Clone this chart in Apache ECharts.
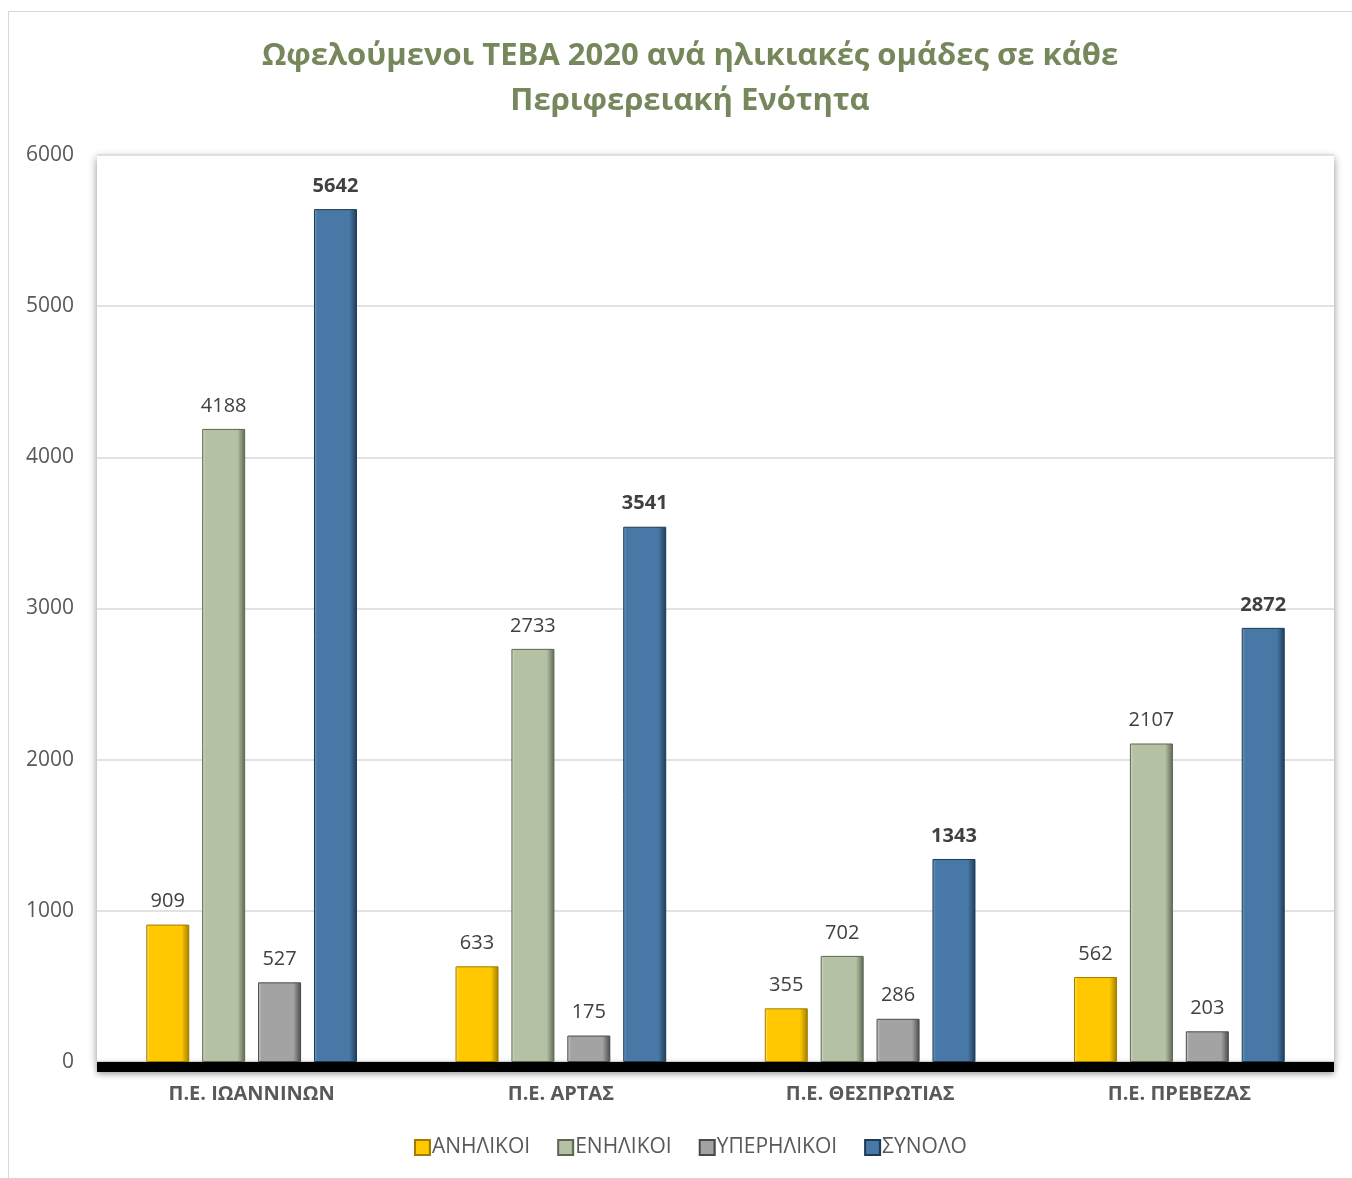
<!DOCTYPE html>
<html>
<head>
<meta charset="utf-8">
<script src="https://cdn.jsdelivr.net/npm/echarts@6/dist/echarts.min.js"></script>
<style>
html,body{margin:0;padding:0;background:#fff;}
#frame{position:absolute;left:8px;top:11px;width:1400px;height:1200px;border:1px solid #d9d9d9;box-sizing:border-box;}
#chart{position:absolute;left:0;top:0;width:1352px;height:1178px;}
</style>
</head>
<body>
<div id="frame"></div>
<div id="chart"></div>
<script>
var categories = ['Π.Ε. ΙΩΑΝΝΙΝΩΝ', 'Π.Ε. ΑΡΤΑΣ', 'Π.Ε. ΘΕΣΠΡΩΤΙΑΣ', 'Π.Ε. ΠΡΕΒΕΖΑΣ'];
var seriesNames = ['ΑΝΗΛΙΚΟΙ', 'ΕΝΗΛΙΚΟΙ', 'ΥΠΕΡΗΛΙΚΟΙ', 'ΣΥΝΟΛΟ'];
var anhlikoi = [909, 633, 355, 562];
var enhlikoi = [4188, 2733, 702, 2107];
var yperhlikoi = [527, 175, 286, 203];
var synolo = [5642, 3541, 1343, 2872];
var yTicks = [0, 1000, 2000, 3000, 4000, 5000, 6000];

var fontName = "'Open Sans', 'Noto Sans', sans-serif";
// base, light edge, dark edge
var barColors = [
    ['#ffc800', '#ffe070', '#a07c00'],
    ['#b4c1a2', '#d2dcc4', '#5e6652'],
    ['#a3a3a3', '#d0d0d0', '#4a4a4a'],
    ['#4778a6', '#6f9cc6', '#1f3a55']
];
var dataList = [anhlikoi, enhlikoi, yperhlikoi, synolo];

function bevel(c) {
    return {
        type: 'linear', x: 0, y: 0, x2: 1, y2: 0,
        colorStops: [
            {offset: 0, color: c[1]},
            {offset: 0.08, color: c[0]},
            {offset: 0.82, color: c[0]},
            {offset: 1, color: c[2]}
        ]
    };
}

var chart = echarts.init(document.getElementById('chart'));
var seriesData = [];
for (var k = 0; k < seriesNames.length; k++) {
    seriesData.push({
        name: seriesNames[k],
        type: 'bar',
        barWidth: 43,
        barGap: '30%',
        itemStyle: {
            color: bevel(barColors[k]),
            borderColor: barColors[k][2],
            borderWidth: 1
        },
        label: {
            show: true,
            position: 'top',
            distance: 13,
            color: '#404040',
            fontFamily: fontName,
            fontSize: 20,
            fontWeight: k == 3 ? 'bold' : 'normal'
        },
        data: dataList[k]
    });
}

var option = {
    animation: false,
    title: {
        text: 'Ωφελούμενοι ΤΕΒΑ 2020 ανά ηλικιακές ομάδες σε κάθε\nΠεριφερειακή Ενότητα',
        left: 685,
        textAlign: 'center',
        top: 29,
        textStyle: {
            color: '#76875c',
            fontFamily: fontName,
            fontSize: 31,
            fontWeight: 'bold',
            lineHeight: 45
        }
    },
    legend: {
        bottom: 15,
        left: 409,
        itemWidth: 15,
        itemHeight: 15,
        itemGap: 27,
        icon: 'rect',
        data: seriesNames,
        textStyle: {
            color: '#595959',
            fontFamily: fontName,
            fontSize: 21,
            padding: [0, 0, 0, -3]
        }
    },
    grid: {
        left: 97,
        right: 18,
        top: 155,
        bottom: 116,
        show: true,
        backgroundColor: '#fff',
        borderWidth: 0,
        shadowColor: 'rgba(0,0,0,0.45)',
        shadowBlur: 8,
        shadowOffsetY: 3
    },
    xAxis: {
        type: 'category',
        data: categories,
        offset: 5,
        axisTick: {show: false},
        axisLine: {onZero: false, lineStyle: {color: '#000', width: 10, cap: 'butt', shadowColor: 'rgba(0,0,0,0.4)', shadowBlur: 6, shadowOffsetY: 2}},
        axisLabel: {
            margin: 17,
            color: '#595959',
            fontFamily: fontName,
            fontSize: 20,
            fontWeight: 'bold'
        }
    },
    yAxis: {
        type: 'value',
        min: yTicks[0],
        max: yTicks[yTicks.length - 1],
        interval: 1000,
        axisLine: {show: false},
        axisTick: {show: false},
        splitLine: {lineStyle: {color: '#d9d9d9', width: 1.5}},
        axisLabel: {
            margin: 23,
            color: '#595959',
            fontFamily: fontName,
            fontSize: 21,
            formatter: function (v) { return String(v); }
        }
    },
    series: seriesData
};
chart.setOption(option);
</script>
</body>
</html>
